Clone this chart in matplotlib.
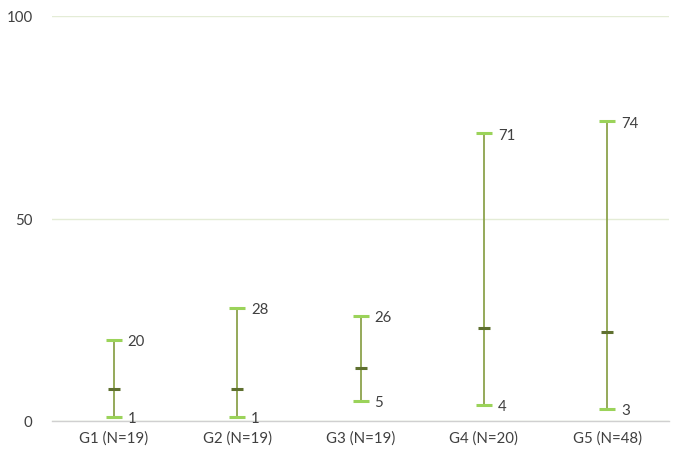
import matplotlib
matplotlib.use("Agg")
import matplotlib.pyplot as plt

categories = ["G1 (N=19)", "G2 (N=19)", "G3 (N=19)", "G4 (N=20)", "G5 (N=48)"]
mins = [1, 1, 5, 4, 3]
maxs = [20, 28, 26, 71, 74]
medians = [8, 8, 13, 23, 22]

plt.rcParams['font.family'] = ['Lato', 'DejaVu Sans']

fig = plt.figure(figsize=(6.74, 4.52), dpi=100)
ax = fig.add_axes([52/674, 1-422/452, (669-52)/674, (422-17)/452])

x = list(range(len(categories)))
line_c = "#8ca34c"
cap_c = "#9bd35a"
med_c = "#5f7030"
text_c = "#404040"

ax.vlines(x, mins, maxs, color=line_c, lw=1.3, zorder=3)
ax.plot(x, maxs, ls='none', marker='_', ms=11, mew=2.2, color=cap_c, zorder=4)
ax.plot(x, mins, ls='none', marker='_', ms=11, mew=2.2, color=cap_c, zorder=4)
ax.plot(x, medians, ls='none', marker='_', ms=8, mew=2.2, color=med_c, zorder=5)

for xi, lo, hi in zip(x, mins, maxs):
    ax.annotate(str(hi), (xi, hi), xytext=(10, -1), textcoords='offset points',
                ha='left', va='center', fontsize=10.8, color=text_c)
    ax.annotate(str(lo), (xi, lo), xytext=(10, -1), textcoords='offset points',
                ha='left', va='center', fontsize=10.8, color=text_c)

ax.set_xlim(-0.5, len(categories) - 0.5)
ax.set_ylim(0, 100)
ax.set_yticks([0, 50, 100])
ax.set_xticks(x)
ax.set_xticklabels(categories)
ax.tick_params(axis='both', length=0, labelsize=10.8, labelcolor=text_c)
ax.tick_params(axis='y', pad=14)
ax.tick_params(axis='x', pad=7)
ax.grid(axis='y', color="#e4ecd6", lw=1)
ax.set_axisbelow(True)
for s in ['top', 'right', 'left']:
    ax.spines[s].set_visible(False)
ax.spines['bottom'].set_color("#d0d0d0")
ax.spines['bottom'].set_linewidth(1)

fig.savefig("out.png", dpi=100)
